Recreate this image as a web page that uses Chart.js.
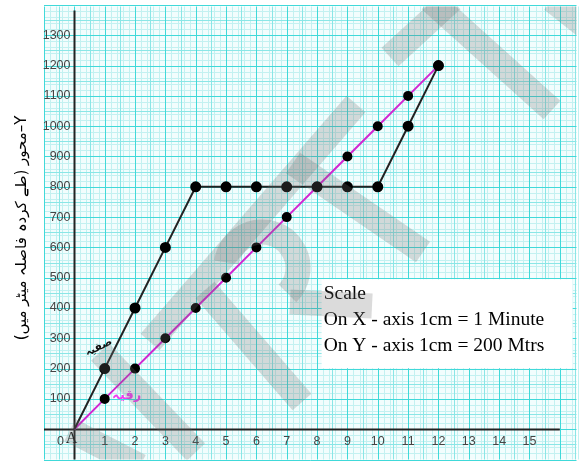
<!DOCTYPE html>
<html>
<head>
<meta charset="utf-8">
<script src="https://cdn.jsdelivr.net/npm/chart.js@4"></script>
<style>
  html, body { margin: 0; padding: 0; background: #fff; }
  #wrap { width: 583px; height: 466px; position: relative; }
</style>
</head>
<body>
<div id="wrap"><canvas id="graphCanvas" width="583" height="466"></canvas></div>
<script>
const minutes = [0, 1, 2, 3, 4, 5, 6, 7, 8, 9, 10, 11, 12];
const safiaDist = [0, 200, 400, 600, 800, 800, 800, 800, 800, 800, 800, 1000, 1200];
const ruqaiyaDist = [0, 100, 200, 300, 400, 500, 600, 700, 800, 900, 1000, 1100, 1200];
const xTickLabels = [1, 2, 3, 4, 5, 6, 7, 8, 9, 10, 11, 12, 13, 14, 15];
const yTickLabels = [100, 200, 300, 400, 500, 600, 700, 800, 900, 1000, 1100, 1200, 1300];
const scaleText = ["Scale", "On X - axis 1cm = 1 Minute", "On Y - axis 1cm = 200 Mtrs"];

const graphCanvas = document.getElementById("graphCanvas");

// graph paper, axes, ticks
const paperPlugin = {
  id: "paper",
  beforeDatasetsDraw(chart) {
    const ctx = chart.ctx;
    const a = chart.chartArea;
    const xs = chart.scales.x;
    const ys = chart.scales.y;
    ctx.save();
    ctx.fillStyle = "#f2fdfd";
    ctx.fillRect(a.left, a.top, a.right - a.left, a.bottom - a.top);

    function vline(v, color) {
      const p = Math.round(xs.getPixelForValue(v)) + 0.5;
      ctx.strokeStyle = color; ctx.lineWidth = 1;
      ctx.beginPath(); ctx.moveTo(p, a.top); ctx.lineTo(p, a.bottom); ctx.stroke();
    }
    function hline(v, color) {
      const p = Math.round(ys.getPixelForValue(v)) + 0.5;
      ctx.strokeStyle = color; ctx.lineWidth = 1;
      ctx.beginPath(); ctx.moveTo(a.left, p); ctx.lineTo(a.right, p); ctx.stroke();
    }
    for (let i = -10; i <= 170; i += 2) {
      if (i % 5 !== 0) vline(i / 10, "#c3f1f1");
    }
    for (let i = -100; i <= 1400; i += 20) {
      if (i % 50 !== 0) hline(i, "#c3f1f1");
    }
    for (let i = -1; i <= 17; i++) vline(i + 0.5, "#8ae6e6");
    for (let i = -100; i <= 1400; i += 100) hline(i + 50, "#8ae6e6");
    for (let i = -1; i <= 17; i++) vline(i, "#40d9d9");
    for (let i = -100; i <= 1400; i += 100) hline(i, "#40d9d9");

    // axes
    const x0 = Math.round(xs.getPixelForValue(0)) + 0.5;
    const y0 = Math.round(ys.getPixelForValue(0)) + 0.5;
    ctx.strokeStyle = "#222";
    ctx.lineWidth = 2;
    ctx.beginPath();
    ctx.moveTo(x0, a.top + 4); ctx.lineTo(x0, a.bottom);
    ctx.moveTo(a.left, y0); ctx.lineTo(xs.getPixelForValue(16), y0);
    ctx.stroke();

    ctx.fillStyle = "#444";
    ctx.font = "12.5px 'Liberation Sans', Arial, sans-serif";
    ctx.textAlign = "right";
    ctx.textBaseline = "middle";
    yTickLabels.forEach(v => ctx.fillText(String(v), x0 - 4, ys.getPixelForValue(v)));
    ctx.textAlign = "center";
    xTickLabels.forEach(v => ctx.fillText(String(v), xs.getPixelForValue(v), y0 + 12));
    ctx.fillText("0", x0 - 14, y0 + 12);
    ctx.fillStyle = "#111";
    ctx.font = "16px 'Liberation Serif', serif";
    ctx.fillText("A", x0 - 3, y0 + 9);
    ctx.restore();
  },
  afterDatasetsDraw(chart) {
    const ctx = chart.ctx;
    const a = chart.chartArea;
    const xs = chart.scales.x;
    const ys = chart.scales.y;

    // series names next to the lines
    ctx.save();
    ctx.font = "bold 11px 'DejaVu Sans', sans-serif";
    ctx.fillStyle = "#111";
    ctx.textAlign = "center";
    ctx.textBaseline = "middle";
    ctx.translate(xs.getPixelForValue(0.8), ys.getPixelForValue(270));
    ctx.rotate(-0.45);
    ctx.fillText("صفیہ", 0, 0);
    ctx.restore();
    ctx.save();
    ctx.font = "bold 13px 'DejaVu Sans', sans-serif";
    ctx.fillStyle = "#f03cf0";
    ctx.textAlign = "center";
    ctx.textBaseline = "middle";
    ctx.fillText("رقیہ", xs.getPixelForValue(1.72), ys.getPixelForValue(112));
    ctx.restore();

    // scale box
    ctx.save();
    const bx = xs.getPixelForValue(8.15), by = ys.getPixelForValue(495);
    ctx.fillStyle = "#fff";
    ctx.fillRect(bx, by, 251, 89);
    ctx.fillStyle = "#000";
    ctx.font = "19.5px 'Liberation Serif', 'Times New Roman', serif";
    ctx.textAlign = "left";
    ctx.textBaseline = "middle";
    scaleText.forEach((t, i) => ctx.fillText(t, bx + 2, by + 15 + i * 26));
    ctx.restore();

    // DRAFT watermark strokes
    ctx.save();
    ctx.beginPath();
    ctx.rect(a.left, a.top, a.right - a.left, a.bottom - a.top);
    ctx.clip();
    ctx.strokeStyle = "rgba(110,110,110,0.25)";
    ctx.lineWidth = 25;
    ctx.lineCap = "butt";
    function band(x1, y1, x2, y2) {
      ctx.beginPath(); ctx.moveTo(x1, y1); ctx.lineTo(x2, y2); ctx.stroke();
    }
    band(356, 104, 150, 342);
    band(293, 163, 423, 252);
    band(205, 290, 302, 402);
    band(100, 352, 196, 452);
    band(70, 430, 140, 466);
    band(390, 57, 452, 0);
    band(430, 0, 552, 110);
    band(552, 0, 590, 30);
    band(290, 302, 372, 306);
    ctx.beginPath();
    ctx.arc(262, 268, 36, Math.PI * 1.05, Math.PI * 2.25);
    ctx.stroke();
    ctx.restore();

    // y axis title
    ctx.save();
    ctx.translate(22, 228);
    ctx.rotate(-Math.PI / 2);
    ctx.direction = "rtl";
    ctx.font = "15px 'DejaVu Sans', sans-serif";
    ctx.fillStyle = "#000";
    ctx.textAlign = "center";
    ctx.textBaseline = "middle";
    ctx.fillText("Y–محور (طے کردہ فاصلہ میٹر میں)", 0, 0);
    ctx.restore();
  }
};

const graphChart = new Chart(graphCanvas, {
  type: "line",
  data: {
    labels: minutes,
    datasets: [
      {
        label: "Safia",
        data: minutes.map((m, i) => ({ x: m, y: safiaDist[i] })),
        borderColor: "#222",
        borderWidth: 2,
        pointBackgroundColor: "#000",
        pointBorderColor: "#000",
        pointRadius: minutes.map(m => (m === 0 ? 0 : 4.5)),
        tension: 0,
      },
      {
        label: "Ruqaiya",
        data: minutes.map((m, i) => ({ x: m, y: ruqaiyaDist[i] })),
        borderColor: "#d126d1",
        borderWidth: 2,
        pointBackgroundColor: "#000",
        pointBorderColor: "#000",
        pointRadius: minutes.map(m => (m === 0 ? 0 : 4)),
        tension: 0,
      },
    ],
  },
  options: {
    responsive: false,
    animation: false,
    layout: { padding: { left: 44, top: 5, right: 0, bottom: 0 } },
    scales: {
      x: { type: "linear", min: -1, max: 16.55, display: false },
      y: { type: "linear", min: -100, max: 1395, display: false },
    },
    plugins: {
      legend: { display: false },
      tooltip: { enabled: false },
    },
  },
  plugins: [paperPlugin],
});
</script>
</body>
</html>
